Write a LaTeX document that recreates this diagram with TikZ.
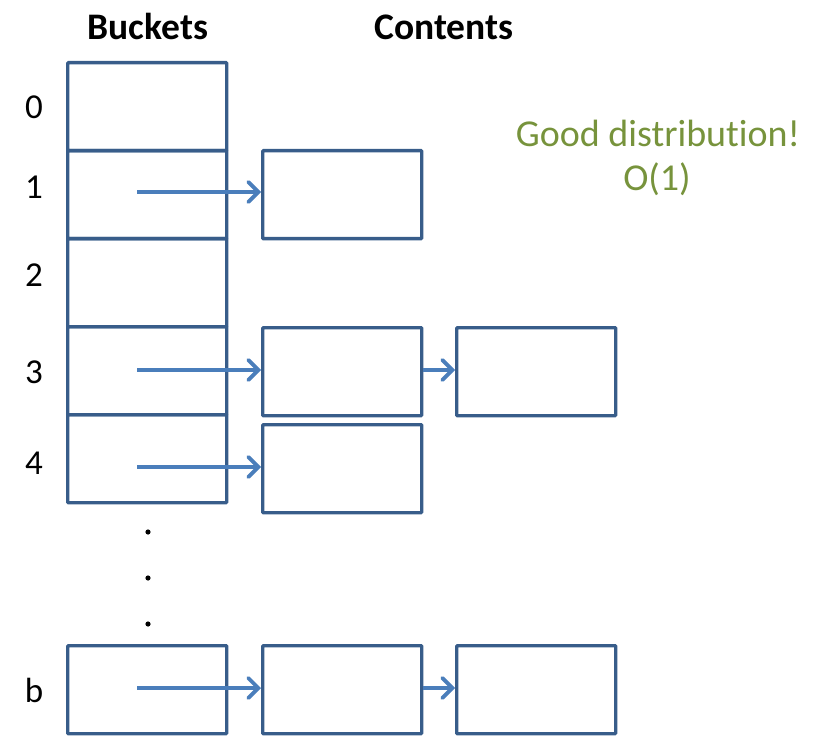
\documentclass[tikz,border=0pt]{standalone}
\usepackage{fontspec}
\setmainfont{Carlito}[Ligatures={NoCommon}]
\usetikzlibrary{arrows.meta}
\definecolor{boxblue}{HTML}{385D8A}
\definecolor{arrblue}{HTML}{4A7EBB}
\definecolor{goodgreen}{HTML}{77933C}
\begin{document}
\begin{tikzpicture}[x=1pt,y=-1pt,
  cell/.style={draw=boxblue,line width=3.3pt,minimum width=159pt,minimum height=88pt,inner sep=0pt,anchor=north west,rounded corners=0.8pt},
  ptr/.style={draw=arrblue,line width=3.8pt,-{Straight Barb[length=10pt,width=20pt,line cap=round,line width=3.8pt]}},
  lbl/.style={font=\fontsize{35}{40}\selectfont,inner sep=0pt,anchor=base},
  note/.style={font=\fontsize{38}{44}\selectfont,inner sep=0pt,anchor=base,text=goodgreen},
  head/.style={font=\fontsize{37.5}{42}\selectfont\bfseries,inner sep=0pt,anchor=base}]
\useasboundingbox (0,0) rectangle (819,743);
% buckets
\node[cell] (b0) at (66,61) {};
\node[cell] (b1) at (66,149) {};
\node[cell] (b2) at (66,237) {};
\node[cell] (b3) at (66,325) {};
\node[cell] (b4) at (66,413) {};
\node[cell] (bb) at (66,644) {};
% contents
\node[cell] (c1) at (261,149) {};
\node[cell] (c3) at (261,326) {};
\node[cell] (d3) at (455,326) {};
\node[cell] (c4) at (261,423) {};
\node[cell] (cb) at (261,644) {};
\node[cell] (db) at (455,644) {};
% arrow starts
\coordinate (s1) at (137,192);
\coordinate (s3) at (137,370);
\coordinate (s4) at (137,467);
\coordinate (sb) at (137,688);
\draw[ptr] (s1) -- (s1 -| c1.west);
\draw[ptr] (s3) -- (s3 -| c3.west);
\draw[ptr] (s4) -- (s4 -| c4.west);
\draw[ptr] (sb) -- (sb -| cb.west);
\draw[ptr] (c3.east |- s3) -- (s3 -| d3.west);
\draw[ptr] (cb.east |- sb) -- (sb -| db.west);
% labels
\node[lbl] (l0) at (34,119) {0};
\node[lbl] (l1) at (34,199) {1};
\node[lbl] (l2) at (34,287) {2};
\node[lbl] (l3) at (34,383) {3};
\node[lbl] (l4) at (34,474) {4};
\node[lbl] (lb) at (34,702) {b};
\node[head] (hb) at (148,40) {Buckets};
\node[head] (hc) at (444,40) {Contents};
\node[note] (g1) at (658,147) {Good distribution!};
\node[note] (g2) at (657,191) {O(1)};
% dots
\fill (148,532) circle (2.6pt);
\fill (148,578) circle (2.6pt);
\fill (148,624) circle (2.6pt);
\end{tikzpicture}
\end{document}
